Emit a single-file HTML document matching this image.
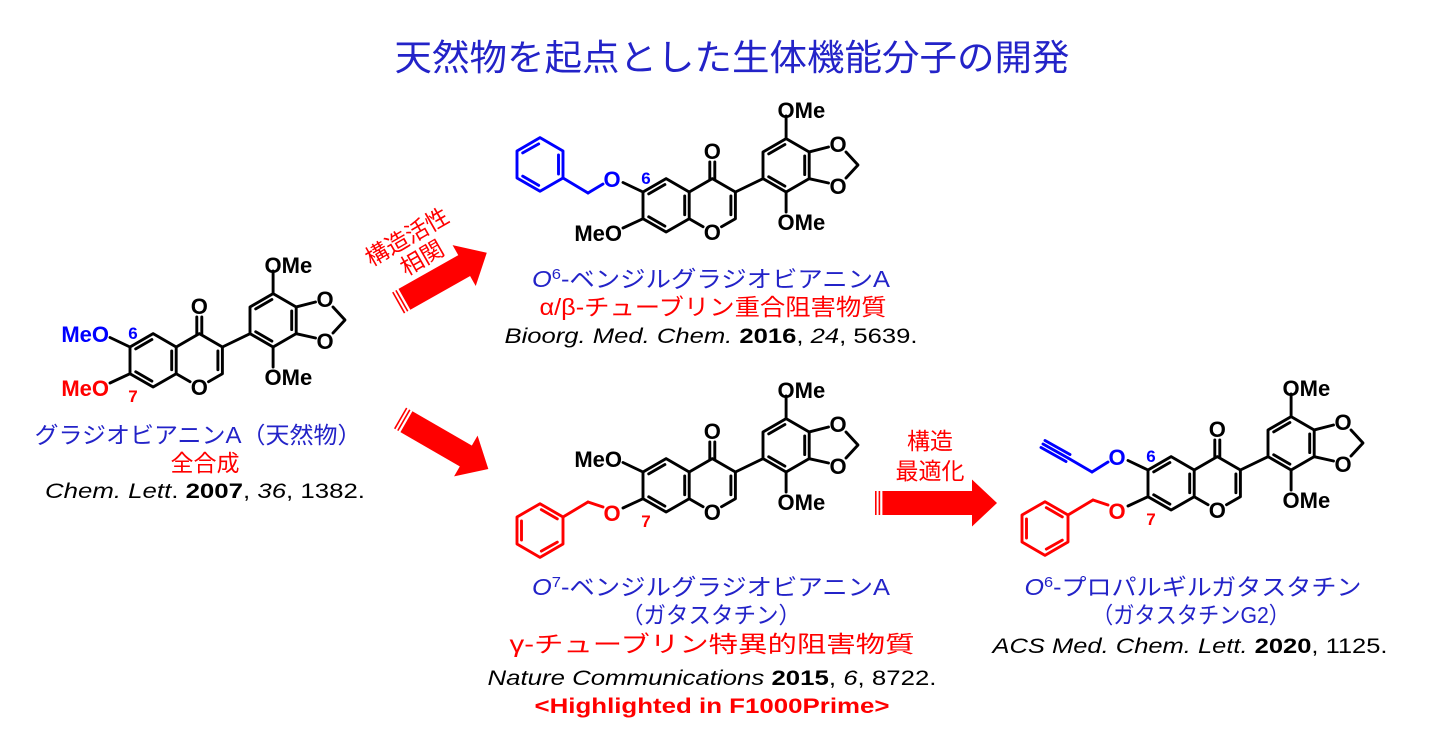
<!DOCTYPE html>
<html><head><meta charset="utf-8"><style>
html,body{margin:0;padding:0;background:#fff;}
svg{display:block;}
.b{stroke:#000;stroke-width:2.9;fill:none;stroke-linecap:round;stroke-linejoin:round;}
.at{font-family:"Liberation Sans",sans-serif;font-weight:bold;font-size:22px;}
.num{font-family:"Liberation Sans",sans-serif;font-weight:bold;font-size:17px;}
.jp{font-family:"Liberation Sans","Noto Sans CJK JP",sans-serif;font-size:23px;}
.ref{font-family:"Liberation Sans",sans-serif;font-size:21px;fill:#000;}
</style></head><body>
<svg width="1431" height="756" viewBox="0 0 1431 756" xmlns="http://www.w3.org/2000/svg">
<defs>
<g id="core">
 <g class="b">
  <polyline points="0,0 23.1,-13.35 46.2,0 46.2,26.7 23.1,40.05 0,26.7 0,0"/>
  <line x1="5.7" y1="1.9" x2="21.9" y2="-7.45"/>
  <line x1="5.7" y1="24.8" x2="21.9" y2="34.15"/>
  <line x1="41.7" y1="4" x2="41.7" y2="22.7"/>
  <polyline points="46.2,0 69.3,-13.35 92.4,0 92.4,26.7 78.5,34.7"/>
  <line x1="46.2" y1="26.7" x2="60.1" y2="34.7"/>
  <line x1="87.9" y1="4" x2="87.9" y2="22.7"/>
  <line x1="66.8" y1="-13" x2="66.8" y2="-30"/>
  <line x1="71.8" y1="-13" x2="71.8" y2="-30"/>
  <line x1="92.4" y1="0" x2="120" y2="-13.35"/>
  <polygon points="120,-13.35 120,-40.05 143.1,-53.4 166.2,-40.05 166.2,-13.35 143.1,0"/>
  <line x1="125.7" y1="-38.15" x2="141.9" y2="-47.5"/>
  <line x1="161.7" y1="-36" x2="161.7" y2="-17.4"/>
  <line x1="141.9" y1="-5.9" x2="125.7" y2="-15.25"/>
  <line x1="143.1" y1="-53.4" x2="143.1" y2="-76"/>
  <line x1="143.1" y1="0" x2="143.1" y2="20"/>
  <line x1="166.2" y1="-40.05" x2="185.5" y2="-45"/>
  <line x1="166.2" y1="-13.35" x2="185.5" y2="-9"/>
  <polyline points="203,-40 215,-27 203,-14"/>
  <line x1="0" y1="0" x2="-20" y2="-9.5"/>
  <line x1="0" y1="26.7" x2="-20" y2="36"/>
 </g>
 <g class="at">
  <text x="69.3" y="-33" text-anchor="middle">O</text>
  <text x="69.3" y="48" text-anchor="middle">O</text>
  <text x="134.5" y="-74">OMe</text>
  <text x="134.5" y="38">OMe</text>
  <text x="195" y="-40" text-anchor="middle">O</text>
  <text x="195" y="2" text-anchor="middle">O</text>
 </g>
</g>
<g id="bzlup">
 <line x1="-40" y1="-8" x2="-55" y2="1"/>
 <polyline points="-55,1 -80,-14"/>
 <polygon points="-80,-14 -80,-41 -103,-54.4 -126,-41 -126,-14 -103,-0.7"/>
 <line x1="-84.5" y1="-37" x2="-84.5" y2="-18"/>
 <line x1="-120.3" y1="-39.1" x2="-104.3" y2="-48.1"/>
 <line x1="-120.3" y1="-15.9" x2="-104.3" y2="-6.6"/>
</g>
<g id="bzldn">
 <line x1="-40" y1="35" x2="-55" y2="30"/>
 <polyline points="-55,30 -80,45"/>
 <polygon points="-80,45 -80,72 -103,85.4 -126,72 -126,45 -103,31.7"/>
 <line x1="-121.5" y1="49" x2="-121.5" y2="68"/>
 <line x1="-101.7" y1="37.6" x2="-85.7" y2="46.9"/>
 <line x1="-85.7" y1="70.1" x2="-101.7" y2="79.1"/>
</g>
<g id="arrow102">
 <rect x="0" y="-12" width="1.6" height="24"/><rect x="3.6" y="-12" width="1.6" height="24"/>
 <rect x="7.4" y="-12" width="70" height="24"/>
 <polygon points="76,-23.5 102,0 76,23.5"/>
</g>
</defs>

<text x="732" y="70" text-anchor="middle" font-family="'Liberation Sans','Noto Sans CJK JP',sans-serif" font-size="36" fill="#2323c8" textLength="675" lengthAdjust="spacingAndGlyphs">天然物を起点とした生体機能分子の開発</text>

<!-- molecule 1 -->
<g transform="translate(130,347)">
 <use href="#core"/>
 <text class="at" x="-21" y="-5" text-anchor="end" fill="#0000ff">MeO</text>
 <text class="num" x="3" y="-8" text-anchor="middle" fill="#0000ff">6</text>
 <text class="at" x="-21" y="49" text-anchor="end" fill="#ff0000">MeO</text>
 <text class="num" x="3" y="55" text-anchor="middle" fill="#ff0000">7</text>
</g>
<!-- molecule 2 -->
<g transform="translate(643,192)">
 <use href="#core"/>
 <g class="b" style="stroke:#0000ff"><use href="#bzlup"/></g>
 <text class="at" x="-31" y="-5" text-anchor="middle" fill="#0000ff">O</text>
 <text class="num" x="3" y="-8" text-anchor="middle" fill="#0000ff">6</text>
 <text class="at" x="-21" y="49" text-anchor="end">MeO</text>
</g>
<!-- molecule 3 -->
<g transform="translate(643,472)">
 <use href="#core"/>
 <text class="at" x="-21" y="-5" text-anchor="end">MeO</text>
 <g class="b" style="stroke:#ff0000"><use href="#bzldn"/></g>
 <text class="at" x="-31" y="49" text-anchor="middle" fill="#ff0000">O</text>
 <text class="num" x="3" y="55" text-anchor="middle" fill="#ff0000">7</text>
</g>
<!-- molecule 4 -->
<g transform="translate(1148,470)">
 <use href="#core"/>
 <g class="b" style="stroke:#0000ff">
  <line x1="-40" y1="-8" x2="-56" y2="2"/>
  <line x1="-56" y1="2" x2="-80" y2="-12"/>
  <line x1="-80" y1="-12" x2="-105" y2="-26"/>
  <line x1="-78" y1="-15.5" x2="-103" y2="-29.5"/>
  <line x1="-82" y1="-8.5" x2="-107" y2="-22.5"/>
 </g>
 <text class="at" x="-31" y="-5" text-anchor="middle" fill="#0000ff">O</text>
 <text class="num" x="3" y="-8" text-anchor="middle" fill="#0000ff">6</text>
 <g class="b" style="stroke:#ff0000"><use href="#bzldn"/></g>
 <text class="at" x="-31" y="49" text-anchor="middle" fill="#ff0000">O</text>
 <text class="num" x="3" y="55" text-anchor="middle" fill="#ff0000">7</text>
</g>

<!-- arrows -->
<g fill="#ff0000">
 <use href="#arrow102" transform="translate(398,303) rotate(-29.5)"/>
 <use href="#arrow102" transform="translate(400,418) rotate(30)"/>
 <g transform="translate(875,503)">
  <rect x="0" y="-12" width="1.6" height="24"/><rect x="3.6" y="-12" width="1.6" height="24"/>
  <rect x="7.4" y="-12" width="91" height="24"/>
  <polygon points="97,-23.5 122,0 97,23.5"/>
 </g>
</g>
<g class="jp" fill="#ff0000" font-size="22">
 <text x="407" y="245" text-anchor="middle" transform="rotate(-30 407 237)">構造活性</text>
 <text x="422" y="266" text-anchor="middle" transform="rotate(-30 422 258)">相関</text>
 <text x="930" y="449" text-anchor="middle">構造</text>
 <text x="930" y="479" text-anchor="middle">最適化</text>
</g>

<!-- captions mol1 -->
<text class="jp" x="198" y="443" text-anchor="middle" fill="#2323c8" textLength="327" lengthAdjust="spacingAndGlyphs">グラジオビアニンA（天然物）</text>
<text class="jp" x="205" y="471" text-anchor="middle" fill="#ff0000">全合成</text>
<text class="ref" x="205" y="498" text-anchor="middle" textLength="320" lengthAdjust="spacingAndGlyphs"><tspan font-style="italic">Chem. Lett</tspan>. <tspan font-weight="bold">2007</tspan>, <tspan font-style="italic">36</tspan>, 1382.</text>

<!-- captions mol2 -->
<text class="jp" x="711" y="287" text-anchor="middle" fill="#2323c8" textLength="358" lengthAdjust="spacingAndGlyphs"><tspan font-style="italic">O</tspan><tspan font-size="15" dy="-8">6</tspan><tspan dy="8">-ベンジルグラジオビアニンA</tspan></text>
<text class="jp" x="713" y="315" text-anchor="middle" fill="#ff0000" textLength="347" lengthAdjust="spacingAndGlyphs">α/β-チューブリン重合阻害物質</text>
<text class="ref" x="711" y="343" text-anchor="middle" textLength="413" lengthAdjust="spacingAndGlyphs"><tspan font-style="italic">Bioorg. Med. Chem.</tspan> <tspan font-weight="bold">2016</tspan>, <tspan font-style="italic">24</tspan>, 5639.</text>

<!-- captions mol3 -->
<text class="jp" x="711" y="595" text-anchor="middle" fill="#2323c8" textLength="358" lengthAdjust="spacingAndGlyphs"><tspan font-style="italic">O</tspan><tspan font-size="15" dy="-8">7</tspan><tspan dy="8">-ベンジルグラジオビアニンA</tspan></text>
<text class="jp" x="711" y="623" text-anchor="middle" fill="#2323c8" textLength="180" lengthAdjust="spacingAndGlyphs">（ガタスタチン）</text>
<text class="jp" x="712" y="652" text-anchor="middle" fill="#ff0000" textLength="405" lengthAdjust="spacingAndGlyphs">γ-チューブリン特異的阻害物質</text>
<text class="ref" x="712" y="685" text-anchor="middle" textLength="449" lengthAdjust="spacingAndGlyphs"><tspan font-style="italic">Nature Communications</tspan> <tspan font-weight="bold">2015</tspan>, <tspan font-style="italic">6</tspan>, 8722.</text>
<text x="712" y="713" text-anchor="middle" font-family="'Liberation Sans',sans-serif" font-weight="bold" font-size="21" fill="#ff0000" textLength="355" lengthAdjust="spacingAndGlyphs">&lt;Highlighted in F1000Prime&gt;</text>

<!-- captions mol4 -->
<text class="jp" x="1193" y="595" text-anchor="middle" fill="#2323c8" textLength="337" lengthAdjust="spacingAndGlyphs"><tspan font-style="italic">O</tspan><tspan font-size="15" dy="-8">6</tspan><tspan dy="8">-プロパルギルガタスタチン</tspan></text>
<text class="jp" x="1191" y="623" text-anchor="middle" fill="#2323c8" textLength="198" lengthAdjust="spacingAndGlyphs">（ガタスタチンG2）</text>
<text class="ref" x="1190" y="653" text-anchor="middle" textLength="395" lengthAdjust="spacingAndGlyphs"><tspan font-style="italic">ACS Med. Chem. Lett.</tspan> <tspan font-weight="bold">2020</tspan>, 1125.</text>
</svg>
</body></html>
